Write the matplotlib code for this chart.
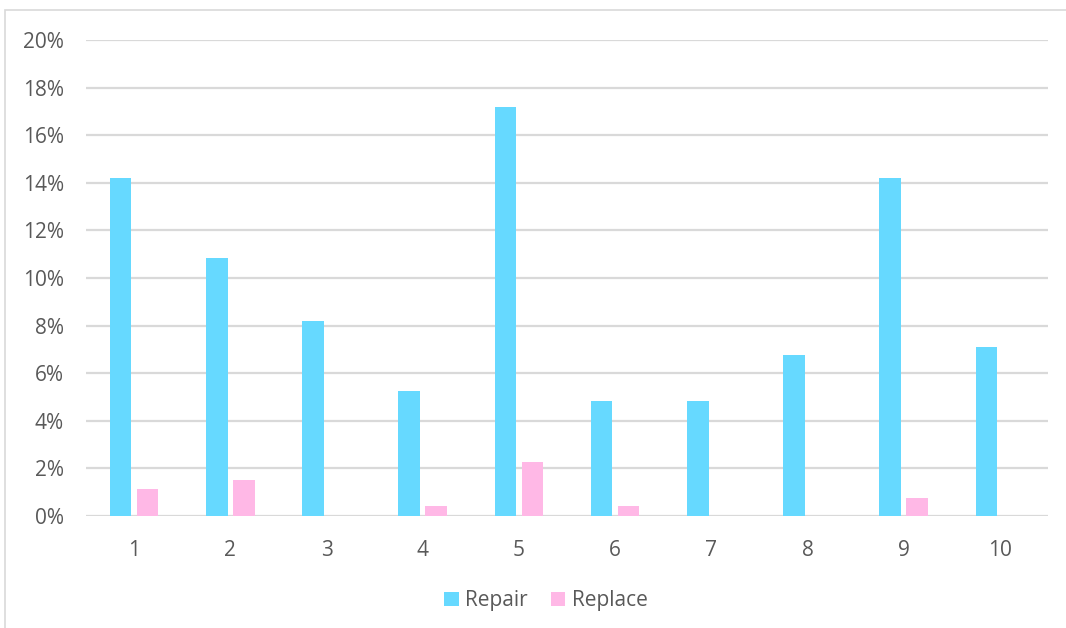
import matplotlib.pyplot as plt
import numpy as np
from matplotlib.patches import Rectangle
from matplotlib.ticker import PercentFormatter

categories = ["1", "2", "3", "4", "5", "6", "7", "8", "9", "10"]
repair = [14.2, 10.85, 8.2, 5.25, 17.2, 4.85, 4.85, 6.75, 14.2, 7.1]
replace = [1.15, 1.5, 0, 0.4, 2.25, 0.4, 0, 0, 0.75, 0]

plt.rcParams['font.family'] = ['Open Sans', 'DejaVu Sans']

fig = plt.figure(figsize=(10.66, 6.28), dpi=100)
ax = fig.add_axes([86 / 1066, 1 - 516 / 628, (1048 - 86) / 1066, (516 - 40) / 628])

# light frame round the chart area
fig.patches.append(Rectangle((5 / 1066, -0.1), 1.2, 1 - 10 / 628 + 0.1,
                             transform=fig.transFigure, fill=False,
                             edgecolor='#d9d9d9', linewidth=1.2))

x = np.arange(len(categories))
w = 0.224
ax.bar(x - 0.14, repair, w, color='#66d9ff', label='Repair', zorder=3)
ax.bar(x + 0.14, replace, w, color='#ffb8e6', label='Replace', zorder=3)

ax.set_xlim(-0.5, len(categories) - 0.5)
ax.set_ylim(0, 20)
ax.set_yticks(np.arange(0, 21, 2))
ax.yaxis.set_major_formatter(PercentFormatter(decimals=0))
ax.set_xticks(x)
ax.set_xticklabels(categories)
ax.grid(axis='y', color='#d9d9d9', linewidth=1.6, zorder=0)
for s in ax.spines.values():
    s.set_visible(False)
ax.tick_params(length=0, labelsize=15, colors='#595959', pad=17)
ax.tick_params(axis='y', pad=16)

ax.legend(loc='center', bbox_to_anchor=(0.478, -0.178), ncol=2, frameon=False,
          fontsize=15, labelcolor='#595959', handlelength=0.7, handleheight=0.7,
          handletextpad=0.3, columnspacing=1.1)

fig.savefig('out.png', dpi=100)
